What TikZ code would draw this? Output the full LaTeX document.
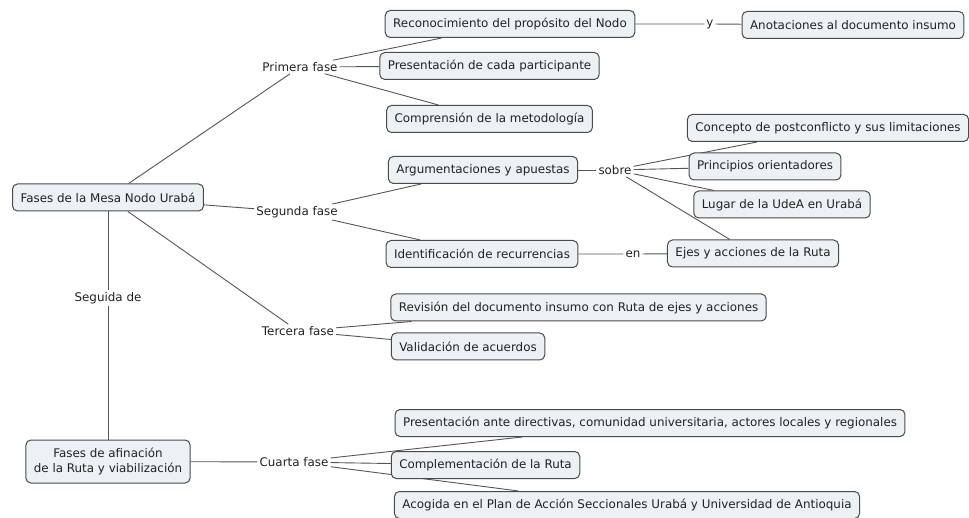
\documentclass[tikz,border=0pt]{standalone}
\usepackage{fontspec}
\setmainfont{DejaVu Sans}
\usetikzlibrary{backgrounds}
\definecolor{boxfill}{HTML}{EBF1F4}
\definecolor{boxline}{HTML}{4A4A4A}
\definecolor{linkline}{HTML}{555555}
\definecolor{txt}{HTML}{222222}

\begin{document}
\begin{tikzpicture}[x=1pt,y=-1pt,font=\fontsize{11.9}{15}\selectfont,text=txt,
  concept/.style={draw=boxline,fill=boxfill,rounded corners=5pt,line width=1pt,
    inner xsep=8pt,minimum height=27pt,align=center},
  phrase/.style={inner sep=2pt},
  link/.style={draw=linkline,line width=0.9pt}]
  \useasboundingbox (0,0) rectangle (969,518);
  % ---------------- concepts ----------------
  \node[concept] (fases) at (108,197.5) {Fases de la Mesa Nodo Urabá};
  \node[concept,minimum height=43pt] (afinacion) at (108,461.5) {Fases de afinación\\de la Ruta y viabilización};
  \node[concept] (reconoc) at (510,24) {Reconocimiento del propósito del Nodo};
  \node[concept] (anotac) at (853,25) {Anotaciones al documento insumo};
  \node[concept] (presenta) at (489.5,66) {Presentación de cada participante};
  \node[concept] (comprens) at (489.5,119) {Comprensión de la metodología};
  \node[concept] (argument) at (483,170) {Argumentaciones y apuestas};
  \node[concept] (concepto) at (828,128) {Concepto de postconflicto y sus limitaciones};
  \node[concept] (principios) at (765,166.5) {Principios orientadores};
  \node[concept] (lugar) at (782,204.5) {Lugar de la UdeA en Urabá};
  \node[concept] (identif) at (482,254) {Identificación de recurrencias};
  \node[concept] (ejes) at (753,253.5) {Ejes y acciones de la Ruta};
  \node[concept] (revision) at (578.5,307.5) {Revisión del documento insumo con Ruta de ejes y acciones};
  \node[concept] (validac) at (468,346.5) {Validación de acuerdos};
  \node[concept] (presante) at (650,423) {Presentación ante directivas, comunidad universitaria, actores locales y regionales};
  \node[concept] (complem) at (485.5,465) {Complementación de la Ruta};
  \node[concept] (acogida) at (627,505) {Acogida en el Plan de Acción Seccionales Urabá y Universidad de Antioquia};
  % ---------------- linking phrases ----------------
  \node[phrase] (primera) at (300,67) {Primera fase};
  \node[phrase] (segunda) at (297,212) {Segunda fase};
  \node[phrase] (tercera) at (298,331) {Tercera fase};
  \node[phrase] (cuarta) at (294,462) {Cuarta fase};
  \node[phrase] (seguida) at (108,298) {Seguida de};
  \node[phrase] (yy) at (710,24) {y};
  \node[phrase] (sobre) at (615,170) {sobre};
  \node[phrase] (en) at (633,254) {en};
  % ---------------- connectors ----------------
  \begin{scope}[on background layer]
    \draw[link] (fases) -- (primera);
    \draw[link] (fases) -- (segunda);
    \draw[link] (fases) -- (tercera);
    \draw[link] (fases) -- (seguida) -- (afinacion);
    \foreach \t in {reconoc,presenta,comprens} \draw[link] (primera) -- (\t);
    \draw[link] (reconoc) -- (yy) -- (anotac);
    \draw[link] (segunda) -- (argument);
    \draw[link] (segunda) -- (identif);
    \draw[link] (argument) -- (sobre);
    \foreach \t in {concepto,principios,lugar,ejes} \draw[link] (sobre) -- (\t);
    \draw[link] (identif) -- (en) -- (ejes);
    \foreach \t in {revision,validac} \draw[link] (tercera) -- (\t);
    \draw[link] (afinacion) -- (cuarta);
    \foreach \t in {presante,complem,acogida} \draw[link] (cuarta) -- (\t);
  \end{scope}
\end{tikzpicture}
\end{document}
